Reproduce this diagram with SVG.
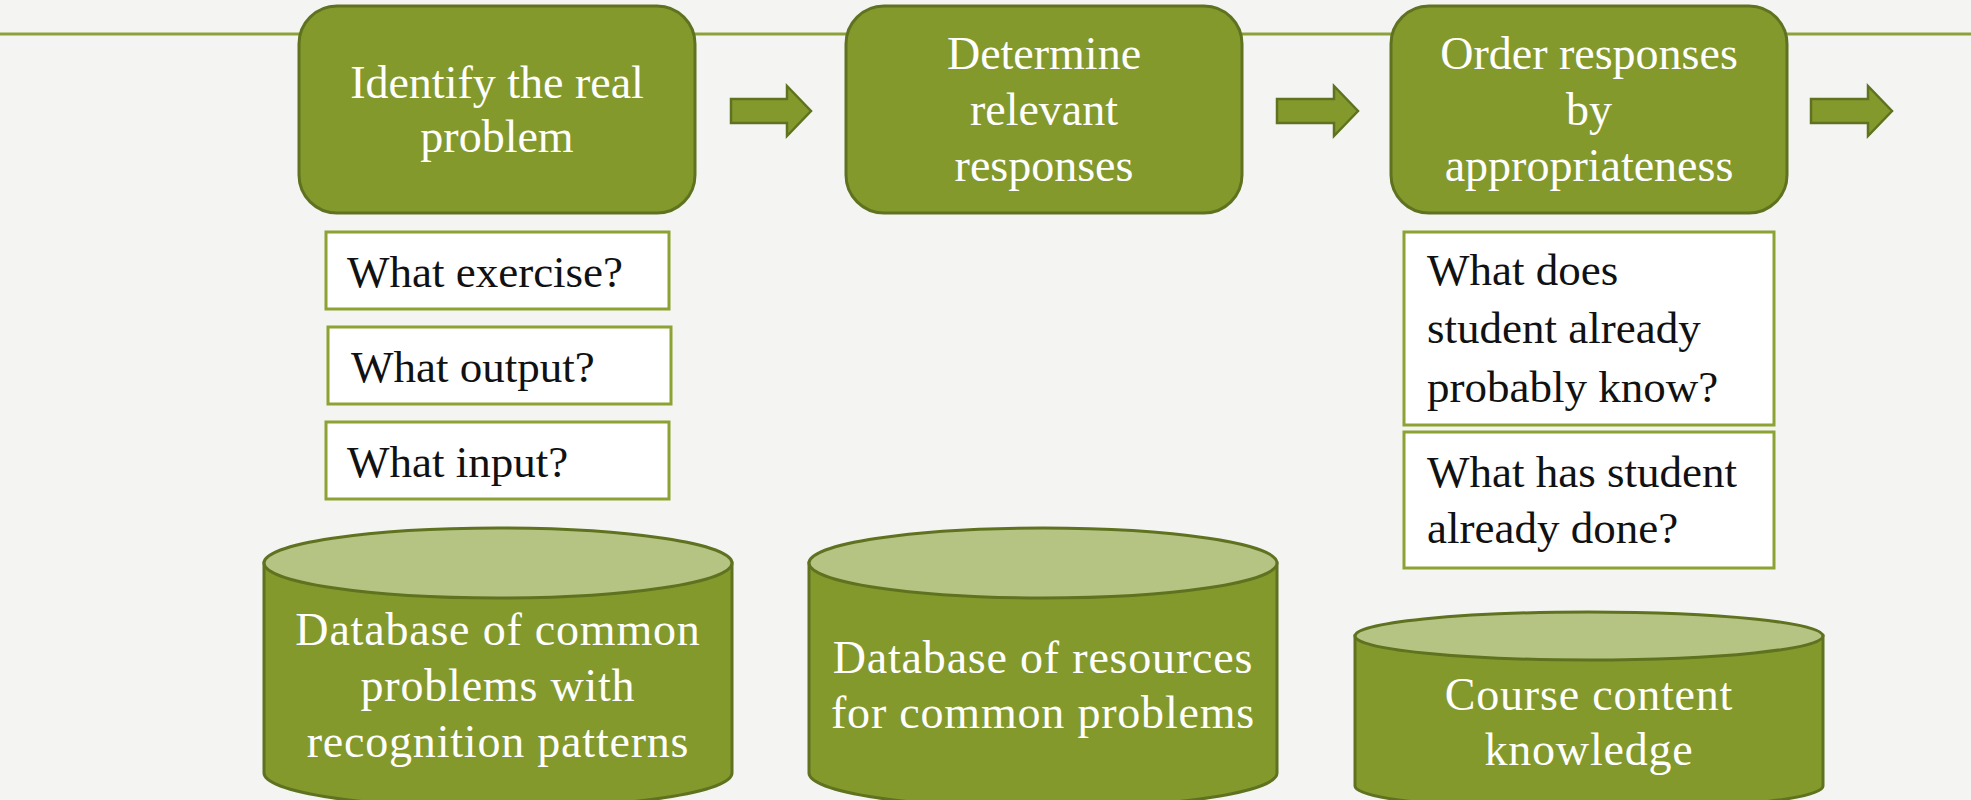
<svg xmlns="http://www.w3.org/2000/svg" width="1971" height="800" viewBox="0 0 1971 800">
<defs>
<style>
.step{fill:#84992C;stroke:#5F7220;stroke-width:3}
.stepText{font-family:"Liberation Serif",serif;font-size:46px;fill:#ffffff;text-anchor:middle}
.q{fill:#ffffff;stroke:#8CA232;stroke-width:3}
.qText{font-family:"Liberation Serif",serif;font-size:45px;fill:#111111}
.body{fill:#84992C;stroke:#5F7220;stroke-width:3}
.cap{fill:#B5C482;stroke:#5F7220;stroke-width:3}
.dbText{font-family:"Liberation Serif",serif;font-size:46px;fill:#ffffff;text-anchor:middle;letter-spacing:0.8px}
.arrow{fill:#84992C;stroke:#5F7220;stroke-width:2.5;stroke-linejoin:miter}
</style>
</defs>
<rect x="0" y="0" width="1971" height="800" fill="#F4F4F2"/>
<line x1="0" y1="34" x2="1971" y2="34" stroke="#8DA13A" stroke-width="3"/>

<g id="connectors">
<polygon class="arrow" points="731,99 787,99 787,86 811,111 787,136 787,123 731,123"/>
<polygon class="arrow" points="1277,99 1334,99 1334,86 1358,111 1334,136 1334,123 1277,123"/>
<polygon class="arrow" points="1811,99 1868,99 1868,86 1892,111 1868,136 1868,123 1811,123"/>
</g>

<g id="step1">
<rect class="step" x="299" y="6" width="396" height="207" rx="38" ry="38"/>
<text class="stepText" x="497" y="98">Identify the real</text>
<text class="stepText" x="497" y="152">problem</text>
</g>
<g id="step2">
<rect class="step" x="846" y="6" width="396" height="207" rx="38" ry="38"/>
<text class="stepText" x="1044" y="69">Determine</text>
<text class="stepText" x="1044" y="125">relevant</text>
<text class="stepText" x="1044" y="181">responses</text>
</g>
<g id="step3">
<rect class="step" x="1391" y="6" width="396" height="207" rx="38" ry="38"/>
<text class="stepText" x="1589" y="69">Order responses</text>
<text class="stepText" x="1589" y="125">by</text>
<text class="stepText" x="1589" y="181">appropriateness</text>
</g>

<g id="q-exercise">
<rect class="q" x="326" y="232" width="343" height="77"/>
<text class="qText" x="347" y="287">What exercise?</text>
</g>
<g id="q-output">
<rect class="q" x="328" y="327" width="343" height="77"/>
<text class="qText" x="351" y="382">What output?</text>
</g>
<g id="q-input">
<rect class="q" x="326" y="422" width="343" height="77"/>
<text class="qText" x="347" y="477">What input?</text>
</g>
<g id="q-know">
<rect class="q" x="1404" y="232" width="370" height="193"/>
<text class="qText" x="1427" y="285">What does</text>
<text class="qText" x="1427" y="343">student already</text>
<text class="qText" x="1427" y="402">probably know?</text>
</g>
<g id="q-done">
<rect class="q" x="1404" y="432" width="370" height="136"/>
<text class="qText" x="1427" y="487">What has student</text>
<text class="qText" x="1427" y="543">already done?</text>
</g>

<g id="db-problems">
<path class="body" d="M264,563 L264,773 A234,35 0 0 0 732,773 L732,563 Z"/>
<ellipse class="cap" cx="498" cy="563" rx="234" ry="35"/>
<text class="dbText" x="498" y="645">Database of common</text>
<text class="dbText" x="498" y="701">problems with</text>
<text class="dbText" x="498" y="757">recognition patterns</text>
</g>
<g id="db-resources">
<path class="body" d="M809,563 L809,773 A234,35 0 0 0 1277,773 L1277,563 Z"/>
<ellipse class="cap" cx="1043" cy="563" rx="234" ry="35"/>
<text class="dbText" x="1043" y="673">Database of resources</text>
<text class="dbText" x="1043" y="728">for common problems</text>
</g>
<g id="db-course">
<path class="body" d="M1355,636 L1355,786 A234,24 0 0 0 1823,786 L1823,636 Z"/>
<ellipse class="cap" cx="1589" cy="636" rx="234" ry="24"/>
<text class="dbText" x="1589" y="710">Course content</text>
<text class="dbText" x="1589" y="765">knowledge</text>
</g>
</svg>
